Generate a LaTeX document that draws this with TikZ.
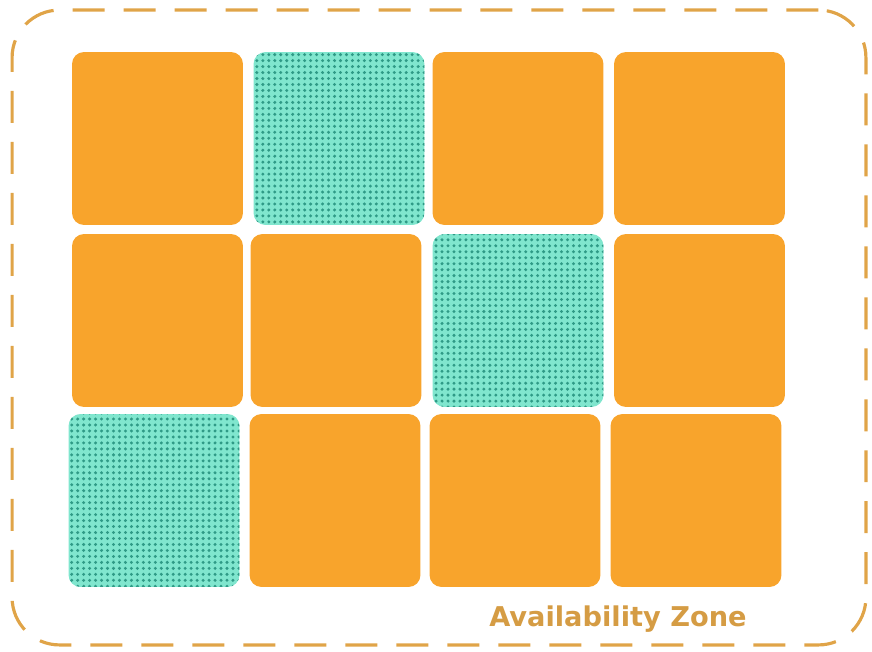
\documentclass[tikz,border=0pt]{standalone}
\usepackage{fontspec}
\setmainfont{DejaVu Sans}
\usetikzlibrary{patterns.meta, positioning}
\definecolor{zoneorange}{HTML}{F8A42C}
\definecolor{zoneline}{HTML}{E0A448}
\definecolor{spotaqua}{HTML}{80E6CE}
\definecolor{spotdots}{HTML}{2F9A86}

\begin{document}
\begin{tikzpicture}[x=0.02cm, y=-0.02cm,
  cellbox/.style={fill=zoneorange, minimum width=3.42cm, minimum height=3.46cm, rounded corners=0.24cm, inner sep=0pt},
  spotbox/.style={cellbox, fill=spotaqua, postaction={pattern={Dots[distance=3.4pt, radius=0.95pt]}, pattern color=spotdots}}]
  \useasboundingbox (0,0) rectangle (872,652);
  \node (zone) [draw=zoneline, line width=1.8pt, dash pattern=on 0.64cm off 0.38cm, rounded corners=0.95cm, minimum width=17.08cm, minimum height=12.7cm] at (439,327.5) {};
  \foreach \n/\x/\y/\s in {c11/157.5/138.5/cellbox, c12/339/138.5/spotbox, c13/518/138.5/cellbox, c14/699.5/138.5/cellbox,
                           c21/157.5/320.5/cellbox, c22/336/320.5/cellbox, c23/518/320.5/spotbox, c24/699.5/320.5/cellbox,
                           c31/154/500.5/spotbox, c32/335/500.5/cellbox, c33/515/500.5/cellbox, c34/696/500.5/cellbox}
    \node (\n) [\s] at (\x,\y) {};
  \node (label) [text=zoneline!95!black, font=\bfseries\fontsize{15.5}{18}\selectfont, anchor=north east] at ([xshift=-0.58cm, yshift=-0.25cm]c34.south east) {Availability Zone};
\end{tikzpicture}
\end{document}
